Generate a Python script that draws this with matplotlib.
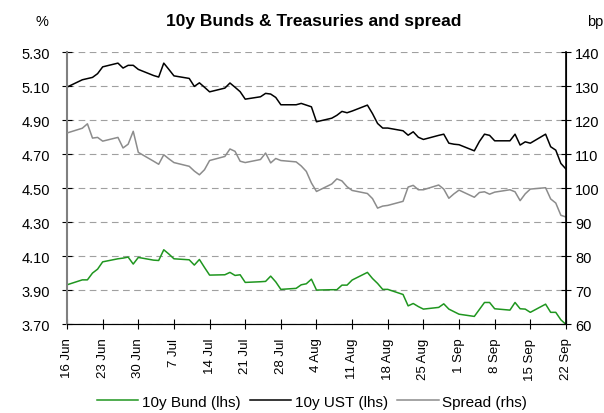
import matplotlib
matplotlib.use("Agg")
import matplotlib.pyplot as plt
import pandas as pd

plt.rcParams['font.family'] = ['Liberation Sans', 'DejaVu Sans']

# business days 16 Jun - 22 Sep 2006
dates = pd.bdate_range('2006-06-16', '2006-09-22')

ust = [5.096,
       5.139, 5.146, 5.153, 5.175, 5.215,
       5.237, 5.208, 5.224, 5.224, 5.200,
       5.164, 5.155, 5.237, 5.200, 5.162,
       5.147, 5.100, 5.121, 5.095, 5.068,
       5.090, 5.120, 5.095, 5.069, 5.025,
       5.039, 5.059, 5.055, 5.035, 4.992,
       4.992, 5.000, 4.990, 4.980, 4.892,
       4.913, 4.930, 4.953, 4.945, 4.955,
       4.990, 4.940, 4.882, 4.855, 4.855,
       4.839, 4.813, 4.833, 4.801, 4.788,
       4.812, 4.819, 4.766, 4.760, 4.757,
       4.721, 4.776, 4.819, 4.812, 4.780,
       4.780, 4.819, 4.755, 4.774, 4.766,
       4.819, 4.745, 4.725, 4.647, 4.614]

bund = [3.933,
        3.962, 3.962, 4.002, 4.025, 4.068,
        4.086, 4.090, 4.096, 4.055, 4.094,
        4.078, 4.076, 4.139, 4.114, 4.086,
        4.080, 4.049, 4.082, 4.035, 3.990,
        3.992, 4.006, 3.988, 3.992, 3.947,
        3.951, 3.953, 3.984, 3.950, 3.906,
        3.912, 3.933, 3.939, 3.966, 3.902,
        3.904, 3.904, 3.931, 3.931, 3.961,
        4.006, 3.970, 3.941, 3.906, 3.906,
        3.876, 3.809, 3.823, 3.805, 3.790,
        3.800, 3.821, 3.790, 3.775, 3.760,
        3.747, 3.788, 3.829, 3.829, 3.792,
        3.784, 3.829, 3.792, 3.790, 3.771,
        3.819, 3.771, 3.771, 3.727, 3.700]

spread = [116.3,
          117.7, 119.0, 114.8, 115.0, 113.9,
          115.0, 111.9, 113.0, 116.8, 110.6,
          108.0, 107.1, 109.9, 108.7, 107.6,
          106.5, 105.1, 104.0, 105.5, 108.2,
          109.4, 111.6, 110.9, 108.0, 107.6,
          108.5, 110.4, 107.5, 108.8, 108.2,
          107.8, 106.6, 105.0, 101.6, 99.1,
          101.3, 102.8, 102.2, 100.5, 99.4,
          98.5, 97.0, 94.2, 94.8, 95.0,
          96.2, 100.4, 100.9, 99.6, 99.6,
          101.0, 99.8, 97.1, 98.4, 99.5,
          97.4, 98.8, 99.0, 98.3, 98.9,
          99.6, 99.0, 96.4, 98.4, 99.8,
          100.2, 96.9, 95.7, 92.1, 91.6]

lhs_ticks = [3.70, 3.90, 4.10, 4.30, 4.50, 4.70, 4.90, 5.10, 5.30]
rhs_ticks = [60, 70, 80, 90, 100, 110, 120, 130, 140]
week_ticks = pd.date_range('2006-06-16', '2006-09-22', freq='7D')

fig = plt.figure(figsize=(6.04, 4.14), dpi=100)
ax = fig.add_axes([0.111, 0.214, 0.826, 0.657])
ax2 = ax.twinx()

l1, = ax.plot(dates, bund, color='#1f961f', lw=1.1, label='10y Bund (lhs)')
l2, = ax.plot(dates, ust, color='black', lw=1.1, label='10y UST (lhs)')
l3, = ax2.plot(dates, spread, color='#8c8c8c', lw=1.1, label='Spread (rhs)')

ax.set_xlim(dates[0], dates[-1])
ax.set_ylim(3.70, 5.30)
ax.set_yticks(lhs_ticks)
ax.set_yticklabels([f"{t:.2f}" for t in lhs_ticks])
ax2.set_ylim(60, 140)
ax2.set_yticks(rhs_ticks)

ax.set_xticks(week_ticks)
ax.set_xticklabels([f"{d.day} {d:%b}" for d in week_ticks], rotation=90)

ax.yaxis.grid(True, ls=(0, (6, 4)), color='#a0a0a0', lw=0.8)
ax.set_axisbelow(True)

for a in (ax, ax2):
    a.spines['top'].set_visible(False)
ax.spines['left'].set_color('#808080')
ax.spines['left'].set_linewidth(1.5)
ax2.spines['left'].set_visible(False)
ax2.spines['right'].set_color('black')
ax2.spines['right'].set_linewidth(1.2)
ax.spines['bottom'].set_color('#404040')

ax.tick_params(axis='y', direction='inout', length=7, labelsize=10.5, pad=9)
ax2.tick_params(axis='y', direction='inout', length=7, labelsize=10.5, pad=3)
ax.tick_params(axis='x', direction='inout', length=7, labelsize=9.5, pad=6)

fig.text(0.52, 0.948, '10y Bunds & Treasuries and spread', ha='center', va='center',
         fontsize=12.5, fontweight='bold')
fig.text(0.07, 0.948, '%', ha='center', va='center', fontsize=10.5)
fig.text(0.985, 0.948, 'bp', ha='center', va='center', fontsize=10.5)

fig.legend(handles=[l1, l2, l3], loc='center', bbox_to_anchor=(0.517, 0.027), ncol=3,
           frameon=False, fontsize=11, handlelength=2.7, columnspacing=0.6,
           handletextpad=0.25)

fig.savefig('out.png', dpi=100)
